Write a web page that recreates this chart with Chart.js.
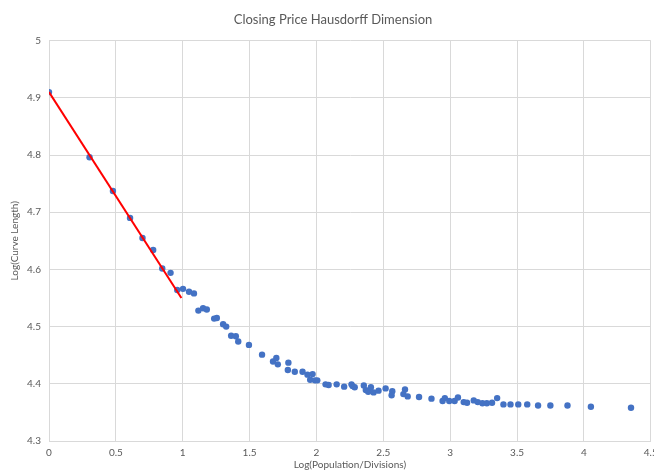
<!DOCTYPE html>
<html>
<head>
<meta charset="utf-8">
<script src="https://cdn.jsdelivr.net/npm/chart.js@4/dist/chart.umd.min.js"></script>
<style>
  html, body { margin: 0; padding: 0; background: #ffffff; }
  #wrap { width: 654px; height: 473px; position: relative; }
</style>
</head>
<body>
<div id="wrap"><canvas id="c" width="654" height="473"></canvas></div>
<script>
const chartTitle = "Closing Price Hausdorff Dimension";
const xAxisTitle = "Log(Population/Divisions)";
const yAxisTitle = "Log(Curve Length)";

const xValues = [
  0, 0.303, 0.478, 0.606, 0.699, 0.779, 0.847, 0.909, 0.959, 1.002,
  1.047, 1.084, 1.117, 1.152, 1.180, 1.235, 1.255, 1.302, 1.325, 1.362,
  1.397, 1.415, 1.495, 1.593, 1.675, 1.700, 1.711, 1.790, 1.786, 1.838,
  1.896, 1.933, 1.971, 1.953, 1.989, 2.006, 2.068, 2.091, 2.151, 2.207,
  2.262, 2.270, 2.286, 2.354, 2.369, 2.387, 2.407, 2.427, 2.464, 2.517,
  2.567, 2.562, 2.650, 2.662, 2.682, 2.767, 2.860, 2.943, 2.960, 2.993,
  3.033, 3.058, 3.101, 3.126, 3.176, 3.206, 3.241, 3.274, 3.313, 3.351,
  3.398, 3.451, 3.509, 3.576, 3.657, 3.749, 3.877, 4.052, 4.352
];
const yValues = [
  4.910, 4.796, 4.737, 4.690, 4.655, 4.634, 4.6015, 4.594, 4.564, 4.566,
  4.561, 4.558, 4.528, 4.532, 4.530, 4.514, 4.515, 4.504, 4.500, 4.484,
  4.483, 4.474, 4.468, 4.451, 4.439, 4.445, 4.434, 4.437, 4.424, 4.421,
  4.421, 4.416, 4.417, 4.407, 4.406, 4.406, 4.399, 4.398, 4.399, 4.395,
  4.399, 4.396, 4.394, 4.397, 4.389, 4.386, 4.394, 4.385, 4.388, 4.392,
  4.387, 4.380, 4.382, 4.390, 4.378, 4.377, 4.374, 4.370, 4.375, 4.370,
  4.370, 4.376, 4.368, 4.367, 4.371, 4.368, 4.366, 4.366, 4.367, 4.375,
  4.364, 4.364, 4.364, 4.364, 4.362, 4.362, 4.362, 4.360, 4.358
];
const fitX = [0, 0.99];
const fitY = [4.91, 4.55];

const xTicks = [0, 0.5, 1, 1.5, 2, 2.5, 3, 3.5, 4, 4.5];
const yTicks = [4.3, 4.4, 4.5, 4.6, 4.7, 4.8, 4.9, 5];

const scatterPoints = xValues.map((x, i) => ({ x: x, y: yValues[i] }));
const fitPoints = fitX.map((x, i) => ({ x: x, y: fitY[i] }));

const textColor = "#595959";
const gridColor = "#d9d9d9";
const fontFamily = "Lato, 'Open Sans', sans-serif";

new Chart(document.getElementById("c"), {
  type: "scatter",
  data: {
    datasets: [
      {
        label: "Fit",
        data: fitPoints,
        showLine: true,
        borderColor: "#ff0000",
        borderWidth: 2,
        pointRadius: 0,
        pointHoverRadius: 0,
        fill: false
      },
      {
        label: "Data",
        data: scatterPoints,
        backgroundColor: "#4472c4",
        borderColor: "#4472c4",
        borderWidth: 0,
        pointRadius: 3.2,
        pointHoverRadius: 3.2
      }
    ]
  },
  options: {
    responsive: false,
    animation: false,
    layout: { padding: { left: 12, right: 0, top: 0, bottom: 0 } },
    plugins: {
      legend: { display: false },
      tooltip: { enabled: false },
      title: {
        display: true,
        text: chartTitle,
        color: textColor,
        font: { family: fontFamily, size: 13, weight: "normal" },
        padding: { top: 12, bottom: 13 }
      }
    },
    scales: {
      x: {
        type: "linear",
        min: 0,
        max: 4.5,
        afterBuildTicks: (s) => { s.ticks = xTicks.map(v => ({ value: v })); },
        afterFit: (s) => { s.height = 32; s.paddingLeft = 0; s.paddingRight = 0; },
        grid: { color: gridColor, drawTicks: false, lineWidth: 1 },
        border: { color: gridColor },
        ticks: {
          color: textColor,
          font: { family: fontFamily, size: 10 },
          padding: 6,
          maxRotation: 0,
          autoSkip: false,
          callback: (v) => String(v)
        },
        title: {
          display: true,
          text: xAxisTitle,
          color: textColor,
          font: { family: fontFamily, size: 10 },
          padding: { top: 0, bottom: 2 }
        }
      },
      y: {
        type: "linear",
        min: 4.3,
        max: 5,
        afterBuildTicks: (s) => { s.ticks = yTicks.map(v => ({ value: v })); },
        afterFit: (s) => { s.width = 37; s.paddingTop = 0; s.paddingBottom = 0; },
        grid: { color: gridColor, drawTicks: false, lineWidth: 1 },
        border: { color: gridColor },
        ticks: {
          color: textColor,
          font: { family: fontFamily, size: 10 },
          padding: 8,
          autoSkip: false,
          callback: (v) => String(Math.round(v * 10) / 10)
        },
        title: {
          display: true,
          text: yAxisTitle,
          color: textColor,
          font: { family: fontFamily, size: 10 },
          padding: { top: -3, bottom: 0 }
        }
      }
    }
  }
});
</script>
</body>
</html>
